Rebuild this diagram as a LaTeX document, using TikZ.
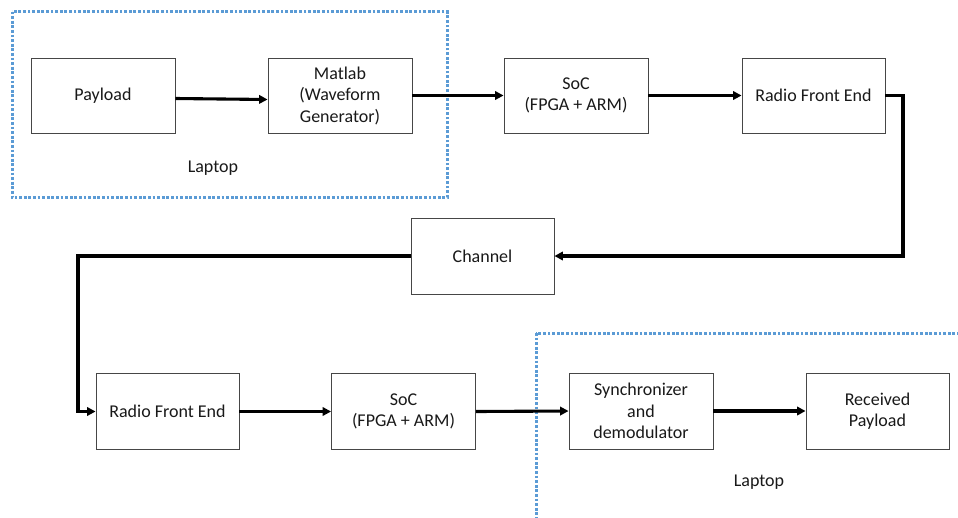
\documentclass[tikz,border=0pt]{standalone}
\usepackage{fontspec}
\setmainfont{Carlito}
\usetikzlibrary{arrows.meta}
\definecolor{laptopblue}{RGB}{91,155,213}
\definecolor{boxline}{RGB}{70,70,70}
\tikzset{
  blockbox/.style={draw=boxline, line width=0.9pt, minimum width=144pt, minimum height=75pt,
    align=center, inner sep=2pt, font=\fontsize{18}{21.5}\selectfont, text=black!90},
  flow/.style={line width=3.1pt, -{Triangle[length=8.5pt,width=8.5pt]}},
  laptopzone/.style={draw=laptopblue, line width=3pt, dash pattern=on 2.8pt off 1.8pt},
  zonelabel/.style={font=\fontsize{18}{21}\selectfont, text=black!90}
}
\begin{document}
\begin{tikzpicture}[x=1pt,y=-1pt]
\clip (0,0) rectangle (958,517);
\fill[white] (0,0) rectangle (958,517);

% laptop regions
\draw[laptopzone] (12,11.5) rectangle (447,197.5);
\draw[laptopzone] (536,333) rectangle (964,524);
\node[zonelabel] (lap1) at (213,168) {Laptop};
\node[zonelabel] (lap2) at (759,482) {Laptop};

% transmit chain
\node[blockbox] (payload) at (103,95.5) {Payload};
\node[blockbox] (matlab) at (340,95.5) {Matlab\\(Waveform\\Generator)};
\node[blockbox] (soc1) at (576,95.5) {SoC\\(FPGA + ARM)};
\node[blockbox, minimum width=143pt] (rfe1) at (813.5,95.5) {Radio Front End};

% channel
\node[blockbox, minimum width=143pt, minimum height=76pt] (channel) at (482.5,256) {Channel};

% receive chain
\node[blockbox, minimum width=143pt, minimum height=76pt] (rfe2) at (167.5,411.5) {Radio Front End};
\node[blockbox, minimum height=76pt] (soc2) at (403.5,411.5) {SoC\\(FPGA + ARM)};
\node[blockbox, minimum height=76pt] (sync) at (641,411) {Synchronizer\\and\\demodulator};
\node[blockbox, minimum width=143pt, minimum height=76pt] (recv) at (877.5,411) {Received\\Payload};

\coordinate (turnA) at (903,95.5);
\coordinate (turnB) at (78,256);

\draw[flow] ([yshift=-3pt]payload.east) -- ([yshift=-4pt]matlab.west);
\draw[flow] (matlab.east) -- (soc1.west);
\draw[flow] (soc1.east) -- (rfe1.west);
\draw[flow] (rfe1.east) -- (turnA) |- (channel.east);
\draw[flow] (channel.west) -- (turnB) |- (rfe2.west);
\draw[flow] (rfe2.east) -- (soc2.west);
\draw[flow] (soc2.east) -- (sync.west);
\draw[flow] (sync.east) -- (recv.west);
\end{tikzpicture}
\end{document}
